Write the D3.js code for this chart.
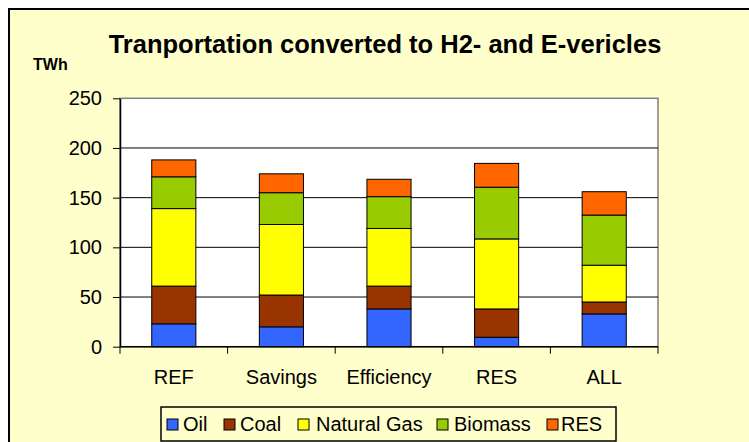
<!DOCTYPE html>
<html><head><meta charset="utf-8">
<script src="https://cdn.jsdelivr.net/npm/d3@7"></script>
<style>body{margin:0;background:#fff}svg{display:block}</style>
</head><body><svg id="c" width="749" height="442"></svg>
<script>
const categories = ["REF","Savings","Efficiency","RES","ALL"];
const seriesNames = ["Oil","Coal","Natural Gas","Biomass","RES"];
const oil     = [23, 20, 38, 9.5, 33];
const coal    = [38, 32, 23, 28.5, 12];
const gas     = [78, 71, 58, 70.5, 37];
const biomass = [32, 32, 32, 52, 50.5];
const res     = [17, 19, 17.5, 24, 23.5];
const yTicks  = [0, 50, 100, 150, 200, 250];
const colors  = ["#3366FF","#993300","#FFFF00","#99CC00","#FF6600"];

const FONT = "Liberation Sans, Arial, sans-serif";
const svg = d3.select("#c");
svg.append("rect").attr("x",9).attr("y",9).attr("width",760).attr("height",460)
  .attr("fill","#FFFFCC").attr("stroke","#000").attr("stroke-width",2);

const L=120,R=658,T=98.3,B=346.7;
const x = d3.scaleBand().domain(categories).range([L,R]).paddingInner(0.59).paddingOuter(0.295);
const y = d3.scaleLinear().domain([0,250]).range([B,T]);

svg.append("rect").attr("x",L).attr("y",T).attr("width",R-L).attr("height",B-T)
  .attr("fill","#fff").attr("stroke","#808080").attr("stroke-width",1.5);

svg.append("g").selectAll("line").data(yTicks.slice(1,-1)).join("line")
  .attr("x1",L).attr("x2",R).attr("y1",d=>y(d)).attr("y2",d=>y(d))
  .attr("stroke","#000").attr("stroke-width",1);

const rows = categories.map((c,i)=>({cat:c,Oil:oil[i],Coal:coal[i],"Natural Gas":gas[i],Biomass:biomass[i],RES:res[i]}));
const stack = d3.stack().keys(seriesNames)(rows);
svg.append("g").selectAll("g").data(stack).join("g").attr("fill",(d,i)=>colors[i])
  .selectAll("rect").data(d=>d).join("rect")
  .attr("x",d=>x(d.data.cat)).attr("width",x.bandwidth())
  .attr("y",d=>y(d[1])).attr("height",d=>y(d[0])-y(d[1]))
  .attr("stroke","#000").attr("stroke-width",1);

// y axis
const ya = svg.append("g").attr("transform",`translate(${L},0)`)
  .call(d3.axisLeft(y).tickValues(yTicks).tickSize(7).tickPadding(11).tickSizeOuter(0));
ya.select(".domain").attr("stroke","#000").attr("stroke-width",1.5);
ya.selectAll(".tick line").attr("stroke","#000");
ya.selectAll("text").attr("font-family",FONT).attr("font-size",20).attr("fill","#000");

// x axis
const xa = svg.append("g").attr("transform",`translate(0,${B})`);
xa.append("line").attr("x1",L).attr("x2",R).attr("stroke","#000").attr("stroke-width",1.5);
const bounds = d3.range(categories.length+1).map(i=>L+i*(R-L)/categories.length);
xa.selectAll(".tk").data(bounds).join("line").attr("class","tk")
  .attr("x1",d=>d).attr("x2",d=>d).attr("y1",0).attr("y2",7).attr("stroke","#000");
xa.selectAll("text").data(categories).join("text")
  .attr("x",d=>x(d)+x.bandwidth()/2).attr("y",37.5).attr("text-anchor","middle")
  .attr("font-family",FONT).attr("font-size",20).text(d=>d);

// titles
svg.append("text").attr("x",385).attr("y",53).attr("text-anchor","middle")
  .attr("font-family",FONT).attr("font-weight","bold").attr("font-size",25.5)
  .text("Tranportation converted to H2- and E-vericles");
svg.append("text").attr("x",33).attr("y",70)
  .attr("font-family",FONT).attr("font-weight","bold").attr("font-size",16)
  .text("TWh");

// legend
const lg = svg.append("g");
lg.append("rect").attr("x",161).attr("y",407).attr("width",455).attr("height",34)
  .attr("fill","#FFFFCC").attr("stroke","#000").attr("stroke-width",1.5);
const mx = [167, 224, 298, 437, 547];
const tx = [183, 240, 316, 454, 561];
seriesNames.forEach((s,i)=>{
  lg.append("rect").attr("x",mx[i]).attr("y",419).attr("width",11).attr("height",11)
    .attr("fill",colors[i]).attr("stroke","#000").attr("stroke-width",1);
  lg.append("text").attr("x",tx[i]).attr("y",431)
    .attr("font-family",FONT).attr("font-size",20).text(s);
});
</script></body></html>
